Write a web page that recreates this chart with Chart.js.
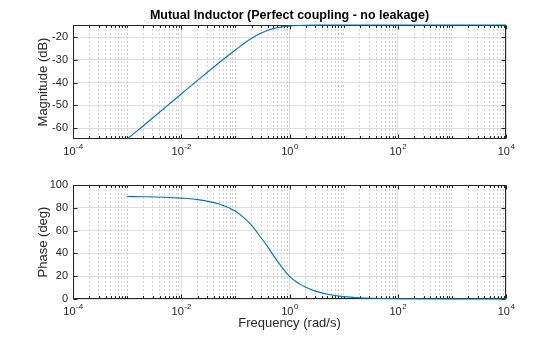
<!DOCTYPE html>
<html>
<head>
<meta charset="utf-8">
<title>Mutual Inductor Bode</title>
<script src="https://cdn.jsdelivr.net/npm/chart.js@4.4.0/dist/chart.umd.min.js"></script>
<style>
  body { margin: 0; background: #fff; }
  #wrap { position: relative; width: 560px; height: 337px; }
  canvas { position: absolute; left: 0; }
</style>
</head>
<body>
<div id="wrap">
  <canvas id="magChart" width="560" height="160" style="top:0"></canvas>
  <canvas id="phaseChart" width="560" height="177" style="top:160px"></canvas>
</div>
<script>
  // Frequency response samples (rad/s)
  const freq = [0.001, 0.002, 0.005, 0.01, 0.02, 0.05, 0.1, 0.15, 0.2, 0.3, 0.4, 0.5, 0.7,
    1, 1.5, 2, 3, 5, 10, 20, 50, 100, 1000, 10000];
  const magDb = [-64.8, -58.95, -51.0, -44.97, -38.97, -31.2, -25.6, -22.4, -20.4, -18.1, -16.9,
    -16.2, -15.5, -15.05, -14.81, -14.72, -14.65, -14.62, -14.6, -14.6, -14.6, -14.6, -14.6, -14.6];
  const phaseDeg = [89.85, 89.7, 89.25, 88.5, 87.2, 83.3, 77.0, 70.5, 64.5, 53.5, 45.5, 38.5, 28.8,
    19.8, 13.5, 10.3, 6.9, 4.2, 2.1, 1.05, 0.42, 0.21, 0.02, 0.0];

  // Axis ticks
  const decadeTicks = [1e-4, 1e-2, 1e0, 1e2, 1e4];
  const magTicks = [-60, -50, -40, -30, -20];
  const phaseTicks = [0, 20, 40, 60, 80, 100];

  // minor log grid: every k*10^n that is not a labelled decade
  const minorTicks = [];
  for (let n = -4; n < 4; n++) {
    for (let k = 1; k <= 9; k++) {
      const v = k * Math.pow(10, n);
      if (!(k === 1 && n % 2 === 0)) minorTicks.push(v);
    }
  }

  const FONT = 'Liberation Sans, Arial, Helvetica, sans-serif';
  const INK = '#262626';

  // MATLAB-style box with inward tick marks, 10^n labels and title
  const axesBox = {
    id: 'axesBox',
    beforeDatasetsDraw(chart) {
      const { ctx, chartArea: a, scales } = chart;
      const L = Math.round(a.left) + 0.5, R = Math.round(a.right) - 0.5;
      const T = Math.round(a.top) + 0.5, B = Math.round(a.bottom) - 0.5;
      ctx.save();
      ctx.strokeStyle = INK;
      ctx.lineWidth = 1;
      ctx.beginPath();
      decadeTicks.concat(minorTicks).forEach(v => {
        const x = Math.round(scales.x.getPixelForValue(v)) + 0.5;
        const len = decadeTicks.includes(v) ? 4 : 2.5;
        ctx.moveTo(x, T); ctx.lineTo(x, T + len);
        ctx.moveTo(x, B); ctx.lineTo(x, B - len);
      });
      chart.options.scales.y.ticksList.forEach(v => {
        const y = Math.round(scales.y.getPixelForValue(v)) + 0.5;
        ctx.moveTo(L, y); ctx.lineTo(L + 4, y);
        ctx.moveTo(R, y); ctx.lineTo(R - 4, y);
      });
      ctx.stroke();
      ctx.strokeRect(L, T, R - L, B - T);

      // decade labels with a raised exponent
      ctx.fillStyle = INK;
      ctx.textBaseline = 'alphabetic';
      ctx.textAlign = 'left';
      const baseFont = '11px ' + FONT, expFont = '8px ' + FONT;
      decadeTicks.forEach(v => {
        const exp = String(Math.round(Math.log10(v)));
        ctx.font = baseFont;
        const wBase = ctx.measureText('10').width;
        ctx.font = expFont;
        const wExp = ctx.measureText(exp).width;
        const x0 = scales.x.getPixelForValue(v) - (wBase + wExp) / 2;
        ctx.font = baseFont;
        ctx.fillText('10', x0, a.bottom + 15.5);
        ctx.font = expFont;
        ctx.fillText(exp, x0 + wBase + 0.5, a.bottom + 10);
      });
      ctx.restore();
    },
    // title centred over the plot box rather than the whole canvas
    afterDraw(chart, args, opts) {
      if (!opts.text) return;
      const { ctx, chartArea: a } = chart;
      ctx.save();
      ctx.fillStyle = '#000';
      ctx.font = 'bold 12.5px ' + FONT;
      ctx.textAlign = 'center';
      ctx.textBaseline = 'middle';
      ctx.fillText(opts.text, (a.left + a.right) / 2, 15.5);
      ctx.restore();
    }
  };

  function makeChart(id, values, yCfg, extra) {
    const ctx = document.getElementById(id).getContext('2d');
    return new Chart(ctx, {
      type: 'line',
      data: {
        datasets: [{
          data: freq.map((f, i) => ({ x: f, y: values[i] })),
          borderColor: '#0072BD',
          borderWidth: 1.1,
          pointRadius: 0,
          cubicInterpolationMode: 'monotone',
          clip: false
        }]
      },
      options: {
        responsive: false,
        animation: false,
        devicePixelRatio: 1,
        layout: { padding: { left: 0, right: 54, top: 25, bottom: 0 } },
        plugins: {
          legend: { display: false },
          tooltip: { enabled: false },
          title: { display: false },
          axesBox: { text: extra.title }
        },
        scales: {
          x: {
            type: 'logarithmic',
            position: 'bottom',
            min: 1e-4,
            max: 1e4,
            afterBuildTicks: s => { s.ticks = decadeTicks.map(v => ({ value: v })); },
            afterFit: s => { s.height = extra.xHeight; },
            ticks: { display: false },
            grid: { color: '#dedede', drawTicks: false },
            border: { display: false },
            title: extra.xTitle
          },
          xm: {
            type: 'logarithmic',
            position: 'bottom',
            min: 1e-4,
            max: 1e4,
            afterBuildTicks: s => { s.ticks = minorTicks.map(v => ({ value: v })); },
            afterFit: s => { s.height = 0; },
            ticks: { display: false },
            grid: { color: '#d2d2d2', drawTicks: false },
            border: { display: false, dash: [2, 2] }
          },
          y: {
            min: yCfg.min,
            max: yCfg.max,
            ticksList: yCfg.ticks,
            afterBuildTicks: s => { s.ticks = yCfg.ticks.map(v => ({ value: v })); },
            afterFit: s => { s.width = 73; },
            ticks: {
              color: INK,
              padding: 5,
              font: { family: FONT, size: 11 }
            },
            grid: { color: '#dedede', drawTicks: false },
            border: { display: false },
            title: {
              display: true,
              text: yCfg.title,
              color: INK,
              padding: { top: 35.7, bottom: 0 },
              font: { family: FONT, size: 13 }
            }
          }
        }
      },
      plugins: [axesBox]
    });
  }

  document.addEventListener('DOMContentLoaded', () => {
    makeChart('magChart', magDb,
      { min: -64.8, max: -14.6, ticks: magTicks, title: 'Magnitude (dB)' },
      {
        xHeight: 21,
        title: 'Mutual Inductor (Perfect coupling - no leakage)',
        xTitle: { display: false }
      });

    makeChart('phaseChart', phaseDeg,
      { min: 0, max: 100, ticks: phaseTicks, title: 'Phase (deg)' },
      {
        xHeight: 38,
        title: '',
        xTitle: {
          display: true,
          text: 'Frequency (rad/s)',
          color: INK,
          padding: { top: 0, bottom: 6.2 },
          font: { family: FONT, size: 13 }
        }
      });
  });
</script>
</body>
</html>
